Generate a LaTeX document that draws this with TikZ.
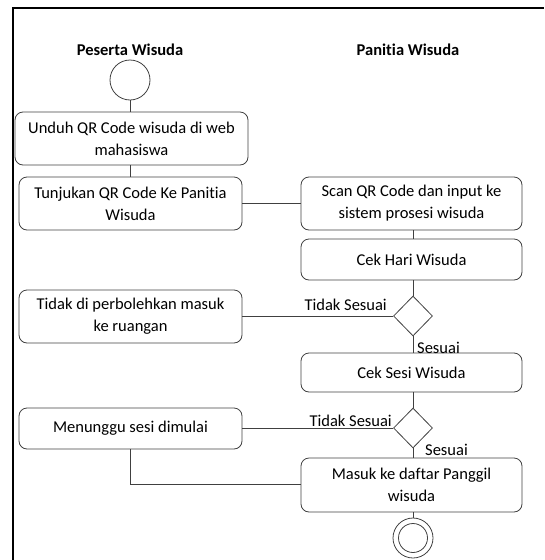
\documentclass[tikz,border=0pt]{standalone}
\usepackage{fontspec}
\setmainfont{Carlito}[Ligatures={NoCommon}]
\usetikzlibrary{shapes.geometric}
\definecolor{lc}{HTML}{404040}
\begin{document}
\begin{tikzpicture}[x=1pt,y=-1pt,
  act/.style={draw=lc,line width=0.8pt,rounded corners=8pt,align=center,inner sep=2pt,
     font=\fontsize{16.5}{22}\selectfont},
  dec/.style={draw=lc,line width=0.8pt,diamond,minimum width=39pt,minimum height=40pt,inner sep=0pt},
  conn/.style={draw=lc,line width=0.8pt},
  lbl/.style={font=\fontsize{16.5}{20}\selectfont,inner sep=1pt},
  hdr/.style={font=\bfseries\fontsize{16.5}{20}\selectfont}]
\useasboundingbox (0,0) rectangle (544,560);
\draw[line width=2pt] (13,560) -- (13,8) -- (544,8);
\node[hdr] (h1) at (130,50) {Peserta Wisuda};
\node[hdr] (h2) at (408,50) {Panitia Wisuda};
\node[draw=lc,line width=0.8pt,circle,minimum size=40pt,inner sep=0pt] (start) at (130,80) {};
\node[act,minimum width=233pt,minimum height=53pt] (b1) at (131.5,138.5) {Unduh QR Code wisuda di web\\mahasiswa};
\node[act,minimum width=223pt,minimum height=53pt] (b2) at (130.5,203.5) {Tunjukan QR Code Ke Panitia\\Wisuda};
\node[act,minimum width=221pt,minimum height=53pt] (b3) at (411.5,203.5) {Scan QR Code dan input ke\\sistem prosesi wisuda};
\node[act,minimum width=221pt,minimum height=41pt] (b4) at (411.5,259.5) {Cek Hari Wisuda};
\node[dec] (d1) at (413,316) {};
\node[act,minimum width=223pt,minimum height=53pt] (b5) at (130.5,316.5) {Tidak di perbolehkan masuk\\ke ruangan};
\node[act,minimum width=221pt,minimum height=39pt] (b6) at (411.5,372.5) {Cek Sesi Wisuda};
\node[dec] (d2) at (413,428) {};
\node[act,minimum width=223pt,minimum height=41pt] (b7) at (130.5,428.5) {Menunggu sesi dimulai};
\node[act,minimum width=221pt,minimum height=54pt] (b8) at (411.5,485) {Masuk ke daftar Panggil\\wisuda};
\node[draw=lc,line width=0.8pt,circle,minimum size=40pt,inner sep=0pt] (end) at (413,538) {};
\node[draw=lc,line width=0.8pt,circle,minimum size=29pt,inner sep=0pt] (endin) at (413,538) {};
% connectors
\draw[conn] (start.south) -- (start.south |- b1.north);
\draw[conn] (b1.south -| start.south) -- (b2.north -| start.south);
\draw[conn] (b2.east |- 0,203) -- (b3.west |- 0,203);
\draw[conn] (b3.south -| d1.north) -- (b4.north -| d1.north);
\draw[conn] (b4.south -| d1.north) -- (d1.north);
\draw[conn] (d1.west) -- (b5.east |- d1.west);
\draw[conn] (d1.south) -- (b6.north -| d1.south);
\draw[conn] (b6.south -| d2.north) -- (d2.north);
\draw[conn] (d2.west) -- (b7.east |- d2.west);
\draw[conn] (d2.south) -- (b8.north -| d2.south);
\draw[conn] (b7.south -| start.south) -- (start.south |- 0,484) -- (b8.west |- 0,484);
\draw[conn] (b8.south -| end.north) -- (end.north);
% labels
\node[lbl,anchor=east] (l1) at (388,305) {Tidak Sesuai};
\node[lbl,anchor=west] (l2) at (416,348) {Sesuai};
\node[lbl,anchor=east] (l3) at (393,421) {Tidak Sesuai};
\node[lbl,anchor=west] (l4) at (424,450) {Sesuai};
\end{tikzpicture}
\end{document}
